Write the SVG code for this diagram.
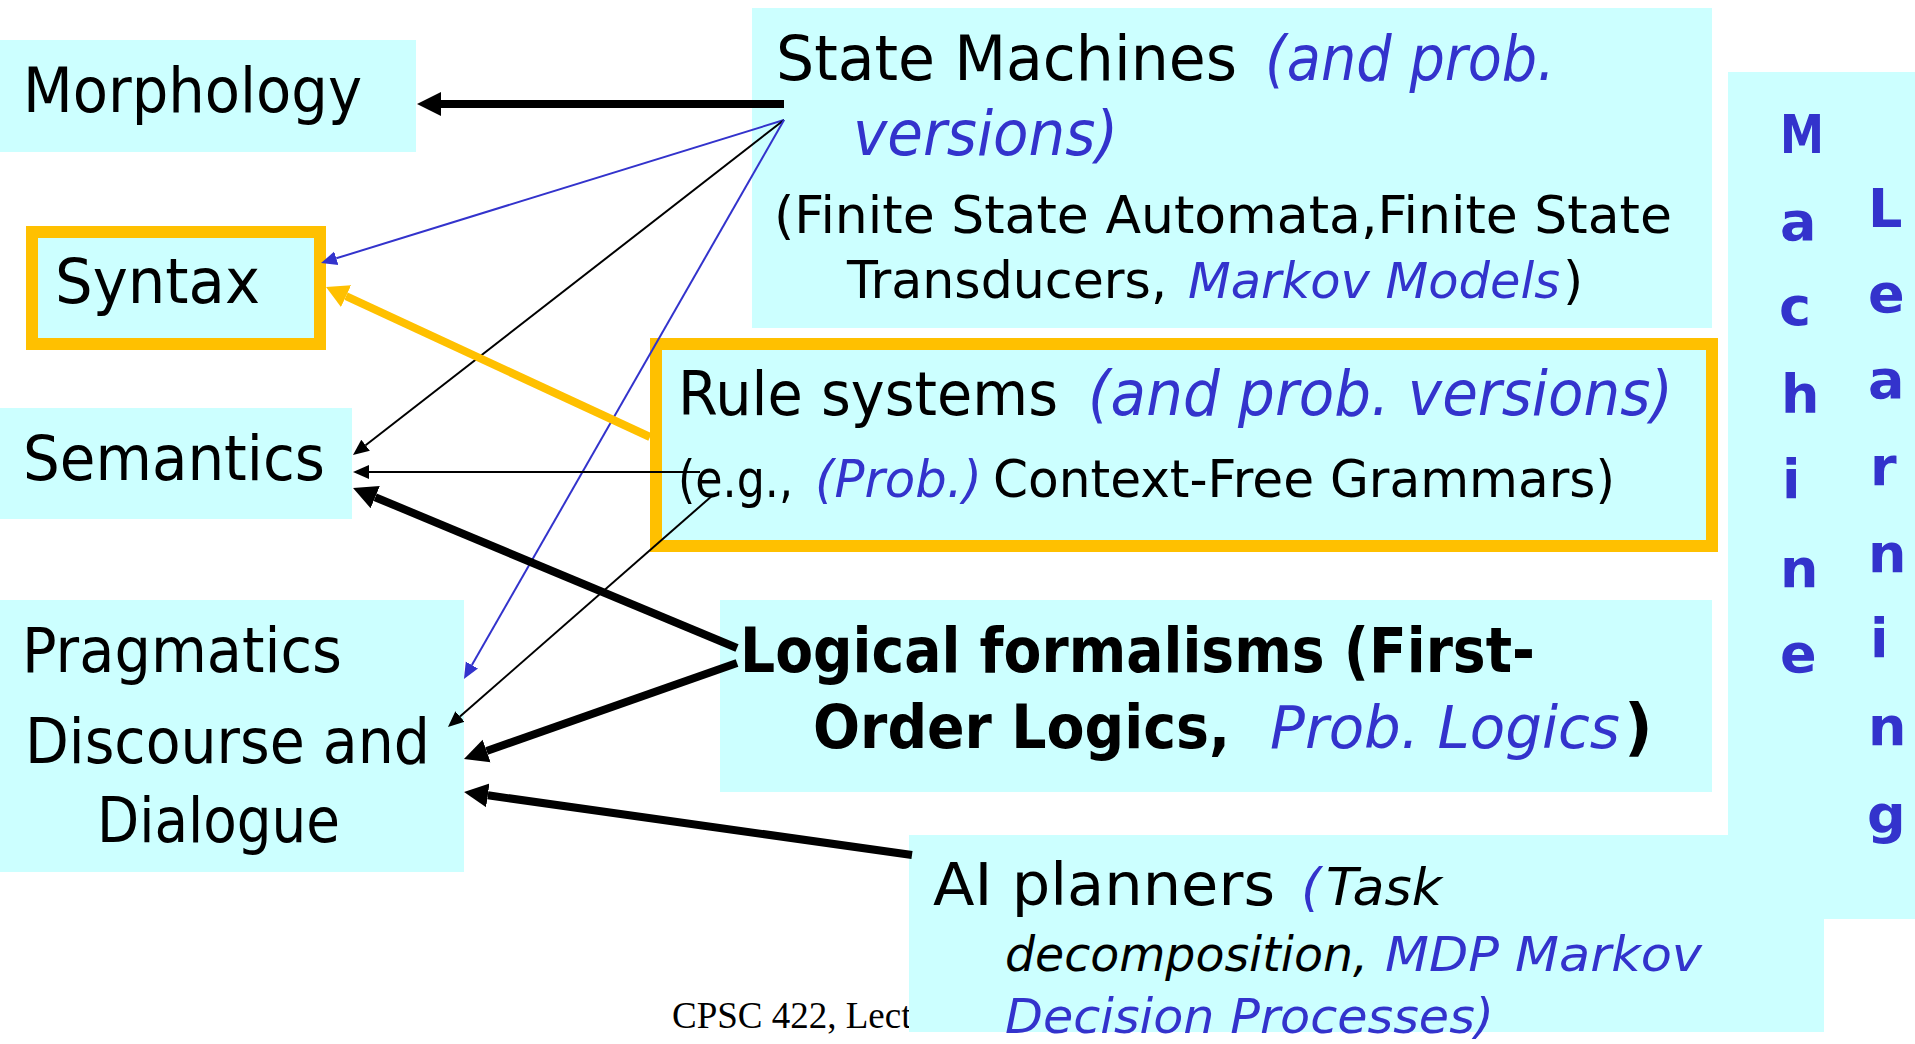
<svg xmlns="http://www.w3.org/2000/svg" width="1915" height="1044" viewBox="0 0 1915 1044">
<style>
.box{fill:#CCFFFF}
.obox{fill:#CCFFFF;stroke:#FFC000;stroke-width:12}
text{font-family:"DejaVu Sans","Liberation Sans",sans-serif;fill:#000}
.L{font-size:63px}
.S{font-size:52px}
.A{font-size:58px}
.T{font-size:52px}
.I{font-size:48px}
.it{font-style:italic}
.bl{fill:#3333CC}
.bd{font-weight:bold}
.ml{font-size:54px;font-weight:bold;fill:#3333CC}
.foot{font-family:"Liberation Serif","Times New Roman",serif;font-size:37px}
.thick{stroke:#000;stroke-width:8;fill:none}
.thin{stroke:#000;stroke-width:2;fill:none}
.thinb{stroke:#3333CC;stroke-width:2;fill:none}
.orng{stroke:#FFC000;stroke-width:8;fill:none}
</style>
<defs>
<marker id="hk" markerUnits="userSpaceOnUse" markerWidth="26" markerHeight="26" refX="0" refY="12" orient="auto" viewBox="0 0 26 24"><path d="M0,0 L24,12 L0,24 z" fill="#000"/></marker>
<marker id="hs" markerUnits="userSpaceOnUse" markerWidth="18" markerHeight="16" refX="0" refY="7" orient="auto" viewBox="0 0 18 14"><path d="M0,0 L16,7 L0,14 z" fill="#000"/></marker>
<marker id="hb" markerUnits="userSpaceOnUse" markerWidth="18" markerHeight="16" refX="0" refY="7" orient="auto" viewBox="0 0 18 14"><path d="M0,0 L16,7 L0,14 z" fill="#3333CC"/></marker>
<marker id="ho" markerUnits="userSpaceOnUse" markerWidth="24" markerHeight="26" refX="0" refY="12" orient="auto" viewBox="0 0 24 24"><path d="M0,0 L22,12 L0,24 z" fill="#FFC000"/></marker>
</defs>
<rect width="1915" height="1044" fill="#fff"/>
<text class="foot" x="672" y="1028">CPSC 422, Lect</text>
<g id="morphology"><rect class="box" x="0" y="40" width="416" height="112"/><text class="L" x="23" y="112" textLength="339" lengthAdjust="spacingAndGlyphs">Morphology</text></g>
<g id="syntax"><rect class="obox" x="32" y="232" width="288" height="112"/><text class="L" x="55" y="303" textLength="205" lengthAdjust="spacingAndGlyphs">Syntax</text></g>
<g id="semantics"><rect class="box" x="0" y="408" width="352" height="111"/><text class="L" x="23" y="480" textLength="302" lengthAdjust="spacingAndGlyphs">Semantics</text></g>
<g id="pragmatics"><rect class="box" x="0" y="600" width="464" height="272"/>
<text class="L" x="22" y="672" textLength="320" lengthAdjust="spacingAndGlyphs">Pragmatics</text>
<text class="L" x="25" y="763" textLength="405" lengthAdjust="spacingAndGlyphs">Discourse and</text>
<text class="L" x="97" y="842" textLength="243" lengthAdjust="spacingAndGlyphs">Dialogue</text></g>
<g id="state-machines"><rect class="box" x="752" y="8" width="960" height="320"/>
<text class="L" x="776" y="80" textLength="461" lengthAdjust="spacingAndGlyphs">State Machines</text>
<text class="L it bl" x="1265" y="80" textLength="290" lengthAdjust="spacingAndGlyphs">(and prob.</text>
<text class="L it bl" x="853" y="155" textLength="265" lengthAdjust="spacingAndGlyphs">versions)</text>
<text class="S" x="774" y="233" textLength="898" lengthAdjust="spacingAndGlyphs">(Finite State Automata,Finite State</text>
<text class="S" x="847" y="298" textLength="320" lengthAdjust="spacingAndGlyphs">Transducers,</text>
<text class="it bl" style="font-size:49px" x="1188" y="298" textLength="372" lengthAdjust="spacingAndGlyphs">Markov Models</text>
<text class="S" x="1563" y="298">)</text></g>
<g id="rule-systems"><rect class="obox" x="656" y="344" width="1056" height="202"/>
<text style="font-size:61px" x="678" y="415" textLength="380" lengthAdjust="spacingAndGlyphs">Rule systems</text>
<text class="L it bl" x="1088" y="415" textLength="585" lengthAdjust="spacingAndGlyphs">(and prob. versions)</text>
<text class="S" x="678" y="497" textLength="115" lengthAdjust="spacingAndGlyphs">(e.g.,</text>
<text class="S it bl" x="815" y="497" textLength="167" lengthAdjust="spacingAndGlyphs">(Prob.)</text>
<text class="S" x="993" y="497" textLength="622" lengthAdjust="spacingAndGlyphs">Context-Free Grammars)</text></g>
<g id="logical"><rect class="box" x="720" y="600" width="992" height="192"/>
<text class="L bd" x="740" y="672" textLength="795" lengthAdjust="spacingAndGlyphs">Logical formalisms (First-</text>
<text class="bd" style="font-size:60px" x="813" y="748" textLength="417" lengthAdjust="spacingAndGlyphs">Order Logics,</text>
<text class="it bl" style="font-size:58px" x="1270" y="748" textLength="350" lengthAdjust="spacingAndGlyphs">Prob. Logics</text>
<text class="L bd" x="1624" y="748">)</text></g>
<g id="machine-learning"><rect class="box" x="1728" y="72" width="187" height="847"/>
<text class="ml" x="1780" y="153" textLength="44" lengthAdjust="spacingAndGlyphs">M</text>
<text class="ml" x="1780" y="240">a</text>
<text class="ml" x="1779" y="325">c</text>
<text class="ml" x="1781" y="413">h</text>
<text class="ml" x="1782" y="498">i</text>
<text class="ml" x="1780" y="587">n</text>
<text class="ml" x="1780" y="672">e</text>
<text class="ml" x="1868" y="227">L</text>
<text class="ml" x="1868" y="312">e</text>
<text class="ml" x="1868" y="398">a</text>
<text class="ml" x="1870" y="485">r</text>
<text class="ml" x="1868" y="572">n</text>
<text class="ml" x="1870" y="657">i</text>
<text class="ml" x="1868" y="745">n</text>
<text class="ml" x="1867" y="833">g</text></g>
<g id="ai-planners"><rect class="box" x="909" y="835" width="915" height="197"/>
<text class="A" x="933" y="905" textLength="342" lengthAdjust="spacingAndGlyphs">AI planners</text>
<text class="T it bl" x="1301" y="905">(</text>
<text class="T it" x="1326" y="905" textLength="116" lengthAdjust="spacingAndGlyphs">Task</text>
<text class="I it" x="1005" y="971" textLength="363" lengthAdjust="spacingAndGlyphs">decomposition,</text>
<text class="I it bl" x="1385" y="971" textLength="317" lengthAdjust="spacingAndGlyphs">MDP Markov</text>
<text class="I it bl" x="1005" y="1033" textLength="489" lengthAdjust="spacingAndGlyphs">Decision Processes)</text></g>
<g id="connectors">
<path class="thick" d="M784,104 L441,104" marker-end="url(#hk)"/>
<path class="thinb" d="M784,120 L336.3,258.3" marker-end="url(#hb)"/>
<path class="thin" d="M784,120 L365.6,445.2" marker-end="url(#hs)"/>
<path class="thinb" d="M784,120 L471.9,665.1" marker-end="url(#hb)"/>
<path class="orng" d="M650,437 L346,296.2" marker-end="url(#ho)"/>
<path class="thin" d="M700,472 L369,472" marker-end="url(#hs)"/>
<path class="thin" d="M713,495 L460,716.5" marker-end="url(#hs)"/>
<path class="thick" d="M737,648 L375.2,497.2" marker-end="url(#hk)"/>
<path class="thick" d="M737,663 L486.6,751" marker-end="url(#hk)"/>
<path class="thick" d="M912,855 L487.8,795.3" marker-end="url(#hk)"/>
</g>
</svg>
